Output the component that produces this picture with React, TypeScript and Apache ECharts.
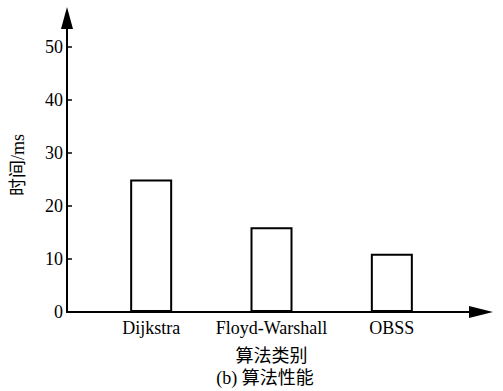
import React, { useEffect, useRef } from "react";
import * as echarts from "echarts";

const categories = ["Dijkstra", "Floyd-Warshall", "OBSS"];
const timeMs = [25, 16, 11];
const yTickValues = [0, 10, 20, 30, 40, 50];
const yAxisName = "时间/ms";
const xAxisName = "算法类别";
const caption = "(b) 算法性能";

const FONT = "Liberation Serif, Times New Roman, Noto Sans CJK SC, serif";

export default function App() {
  const ref = useRef<HTMLDivElement>(null);
  useEffect(() => {
    if (!ref.current) return;
    const chart = echarts.init(ref.current, null, { renderer: "svg" });
    const yMax = 55.5;
    chart.setOption({
      animation: false,
      backgroundColor: "#ffffff",
      textStyle: { fontFamily: FONT, color: "#000" },
      grid: [
        { left: 67, right: 22, top: 18, bottom: 79, containLabel: false },
        { left: 91, right: 51, top: 18, bottom: 79, containLabel: false },
      ],
      xAxis: [
        {
          gridIndex: 0,
          type: "category",
          data: [""],
          axisLine: {
            show: true,
            lineStyle: { color: "#000", width: 2 },
            symbol: ["none", "triangle"],
            symbolSize: [12, 24],
          },
          axisTick: { show: false },
          axisLabel: { show: false },
          splitLine: { show: false },
        },
        {
          gridIndex: 1,
          type: "category",
          data: categories,
          axisLine: { show: false },
          axisTick: { show: false },
          axisLabel: {
            color: "#000",
            fontFamily: FONT,
            fontSize: 18,
            margin: 7,
            interval: 0,
          },
          name: xAxisName,
          nameLocation: "middle",
          nameGap: 35,
          nameTextStyle: { color: "#000", fontFamily: FONT, fontSize: 18 },
        },
      ],
      yAxis: [
        {
          gridIndex: 0,
          type: "value",
          min: 0,
          max: yMax,
          interval: 10,
          axisLine: {
            show: true,
            lineStyle: { color: "#000", width: 2 },
            symbol: ["none", "triangle"],
            symbolSize: [12, 22],
          },
          axisTick: {
            show: true,
            inside: true,
            length: 5,
            lineStyle: { color: "#000", width: 1.5 },
            customValues: yTickValues,
          },
          axisLabel: {
            color: "#000",
            fontFamily: FONT,
            fontSize: 18,
            margin: 4,
            customValues: yTickValues,
          },
          splitLine: { show: false },
          name: yAxisName,
          nameLocation: "middle",
          nameRotate: 90,
          nameGap: 40,
          nameTextStyle: { color: "#000", fontFamily: FONT, fontSize: 18 },
        },
        {
          gridIndex: 1,
          type: "value",
          min: 0,
          max: yMax,
          interval: 10,
          show: false,
          splitLine: { show: false },
        },
      ],
      series: [
        {
          type: "bar",
          xAxisIndex: 1,
          yAxisIndex: 1,
          data: timeMs,
          barWidth: 42,
          itemStyle: { color: "#ffffff", borderColor: "#000", borderWidth: 2 },
        },
      ],
      graphic: [
        {
          type: "text",
          x: 265,
          y: 378,
          style: {
            text: caption,
            fill: "#000",
            fontFamily: FONT,
            fontSize: 18,
            textAlign: "center",
            textVerticalAlign: "middle",
          },
        },
      ],
    });
    return () => chart.dispose();
  }, []);
  return (
    <div
      ref={ref}
      style={{ position: "fixed", left: 0, top: 0, width: 503, height: 391, background: "#fff" }}
    />
  );
}
